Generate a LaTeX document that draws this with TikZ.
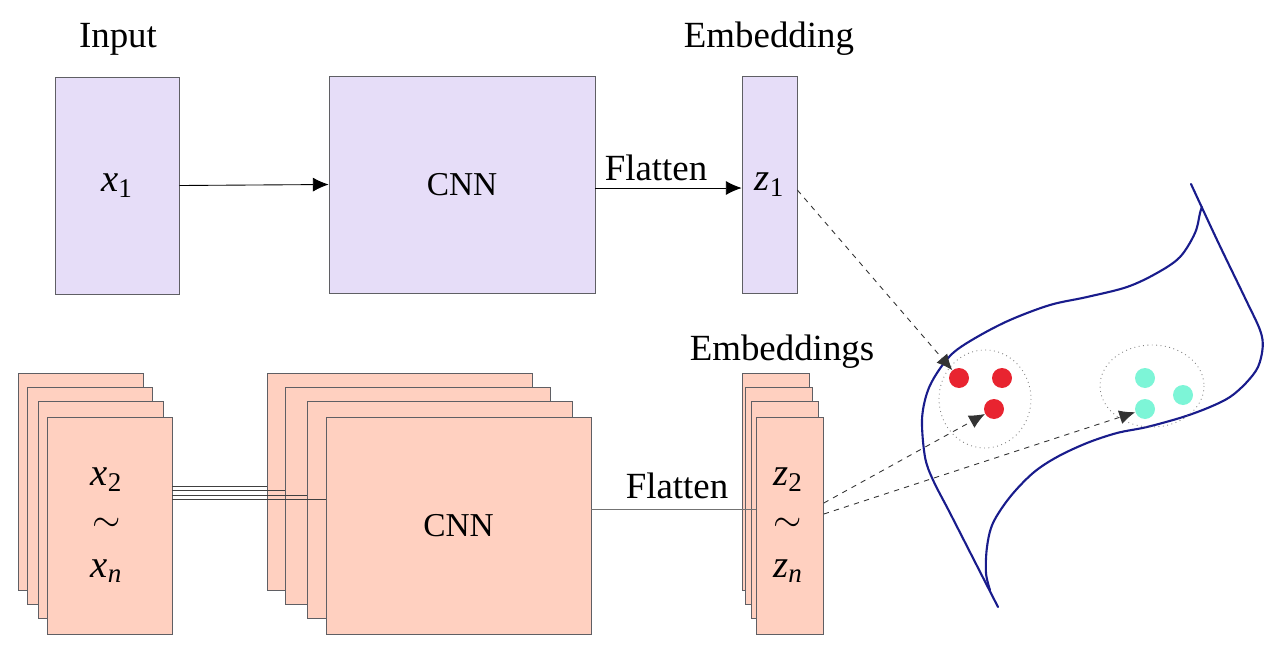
\documentclass[tikz,border=0pt]{standalone}
\usepackage{fontspec}
\setmainfont{LiberationSerif}[Extension=.ttf, UprightFont=*-Regular, ItalicFont=*-Italic, BoldFont=*-Bold]
\usetikzlibrary{arrows.meta}
\definecolor{lav}{RGB}{230,221,248}
\definecolor{salmon}{RGB}{255,208,192}
\definecolor{edge}{RGB}{95,95,100}
\definecolor{sheetblue}{RGB}{25,28,140}
\definecolor{dotred}{RGB}{232,36,48}
\definecolor{dotcyan}{RGB}{125,245,215}

\begin{document}
\begin{tikzpicture}[x=0.02cm,y=-0.02cm,
  lbl/.style={font=\fontsize{21}{25}\selectfont, anchor=base, inner sep=0},
  var/.style={font=\fontsize{22}{26}\selectfont, align=center},
  cnnfont/.style={font=\fontsize{19}{23}\selectfont},
  topbox/.style={draw=edge, fill=lav, inner sep=0, minimum height=4.34cm},
  lowbox/.style={draw=edge, fill=salmon, inner sep=0, minimum height=4.34cm},
  link/.style={draw=black!75, line width=0.4pt},
  arr/.style={black, line width=0.5pt, -{Latex[length=9pt,width=8pt]}},
  proj/.style={black!80, dashed, line width=0.5pt, -{Latex[length=9pt,width=8pt]}},
  dot/.style={circle, fill=#1, minimum size=0.4cm, inner sep=0},
  cluster/.style={gray, dotted, line width=0.5pt},
  sheet/.style={sheetblue, line width=1.2pt, line cap=round, line join=round}]

\useasboundingbox (0,0) rectangle (1276,646);

\node[lbl] (inlbl) at (118,47) {Input};
\node[lbl] (emblbl) at (769,47) {Embedding};
\node[lbl] (embslbl) at (782,360) {Embeddings};

\node[topbox, minimum width=2.48cm, var] (x1) at (117,185.5) {\textit{x}\textsubscript{1}};
\node[topbox, minimum width=5.32cm, cnnfont] (cnn1) at (462,184.5) {CNN};
\node[topbox, minimum width=1.10cm, var] (z1) at (769.5,184.5) {\textit{z}\textsubscript{1}};

\draw[arr] (x1.east) -- (cnn1.west);
\draw[arr] (cnn1.east |- 0,188) -- (z1.west |- 0,188);
\node[lbl] (fl1) at (656,180) {Flatten};

\foreach \dx/\dy [count=\k] in {0/0,9/14,20/28,29/44}
{
\node[lowbox, minimum width=2.5cm] (xs\k) at (80.5+\dx,481.5+\dy) {};
}
\foreach \dx/\dy [count=\k] in {0/0,18/14,40/28,59/44}
{
\node[lowbox, minimum width=5.3cm] (cs\k) at (399.5+\dx,481.5+\dy) {};
}
\foreach \dx/\dy [count=\k] in {0/0,3/14,9/28,14/44}
{
\node[lowbox, minimum width=1.34cm] (zs\k) at (776+\dx,481.5+\dy) {};
}

\node[var] (xtxt) at ([xshift=-0.06cm]xs4.center) {\textit{x}\textsubscript{2}\\$\sim$\\\textit{x}\textsubscript{\textit{n}}};
\node[cnnfont] (cnntxt) at (cs4.center) {CNN};
\node[var] (ztxt) at ([xshift=-0.04cm]zs4.center) {\textit{z}\textsubscript{2}\\$\sim$\\\textit{z}\textsubscript{\textit{n}}};

\foreach \k/\yy in {1/486,2/490.5,3/495,4/499.5}
{
\draw[link] (xs4.east |- 0,\yy) -- (cs\k.west |- 0,\yy);
}
\draw[link, draw=black!55] (cs4.east |- 0,509) -- (zs4.west |- 0,509);
\node[lbl] (fl2) at (677,498) {Flatten};

\draw[sheet] plot[smooth, tension=0.55] coordinates {(1191,184) (1218,242) (1246,300) (1260,330) (1262.7,347) (1258,367) (1246,383) (1230,397) (1210,407) (1183,417) (1147,427) (1117,433) (1087,443) (1057,457) (1033,473) (1010,497) (993,523) (987,547) (986,573) (990,590)};
\draw[sheet] plot[smooth, tension=0.55] coordinates {(998,607) (974,560) (950,513) (933,480) (925,457) (922,420) (927,393) (937,373) (953,353) (977,337) (1010,320) (1050,305) (1087,297) (1127,287) (1157,273) (1180,257) (1195,233) (1200,213) (1202,207)};

\draw[cluster] (985,399) ellipse (46 and 49);
\draw[cluster] (1152,386) ellipse (52 and 41);

\node[dot=dotred] (r1) at (959,378) {};
\node[dot=dotred] (r2) at (1002,378) {};
\node[dot=dotred] (r3) at (994,409) {};
\node[dot=dotcyan] (c1) at (1145,378) {};
\node[dot=dotcyan] (c2) at (1183,395) {};
\node[dot=dotcyan] (c3) at (1145,409) {};

\draw[proj] (z1.east |- 0,190) -- (r1);
\draw[proj] (zs4.east |- 0,503) -- (r3);
\draw[proj] (zs4.east |- 0,514) -- (c3);
\end{tikzpicture}
\end{document}
